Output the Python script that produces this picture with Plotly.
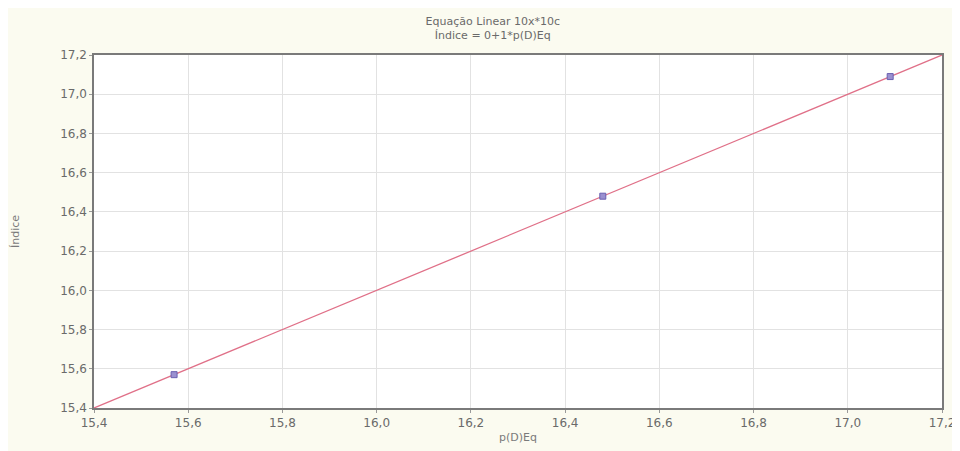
import plotly.graph_objects as go

x_vals = [15.57, 16.48, 17.09]
y_vals = [15.57, 16.48, 17.09]
fit_x = [15.4, 17.2]
fit_y = [15.4, 17.2]
x_ticks = [15.4, 15.6, 15.8, 16.0, 16.2, 16.4, 16.6, 16.8, 17.0, 17.2]
y_ticks = [15.4, 15.6, 15.8, 16.0, 16.2, 16.4, 16.6, 16.8, 17.0, 17.2]

fig = go.Figure()
fig.add_trace(go.Scatter(x=fit_x, y=fit_y, mode="lines",
                         line=dict(color="#e07088", width=1.3), showlegend=False))
fig.add_trace(go.Scatter(x=x_vals, y=y_vals, mode="markers",
                         marker=dict(symbol="square", size=6, color="#9a90d0",
                                     line=dict(color="#6a5fb0", width=1)),
                         showlegend=False))

font_fam = "DejaVu Sans, Arial"
axis_common = dict(showgrid=True, gridcolor="#e2e2e2", gridwidth=1,
                   showline=True, linecolor="#7a7a7a", linewidth=1.5, mirror=True,
                   ticks="outside", ticklen=3, tickcolor="#9a9a9a",
                   tickfont=dict(family=font_fam, size=12, color="#6a6a6a"),
                   tickformat=".1f", zeroline=False, automargin=False)

fig.update_xaxes(range=[15.4, 17.2], tickvals=x_ticks,
                 title=dict(text="p(D)Eq", font=dict(family=font_fam, size=11, color="#7a7a7a"), standoff=4),
                 **axis_common)
fig.update_yaxes(range=[15.4, 17.2], tickvals=y_ticks,
                 title=dict(text="Índice", font=dict(family=font_fam, size=11, color="#7a7a7a"), standoff=38),
                 **axis_common)

fig.update_layout(
    width=960, height=451,
    paper_bgcolor="#fbfbf0", plot_bgcolor="#ffffff",
    separators=",.",
    margin=dict(l=86, r=26, t=47, b=51),
    title=dict(text="Equação Linear 10x*10c<br>Índice = 0+1*p(D)Eq",
               x=0.505, xanchor="center", y=0.963, yanchor="top",
               font=dict(family=font_fam, size=11, color="#6a6a6a")),
)

fig.write_html("out.html")
